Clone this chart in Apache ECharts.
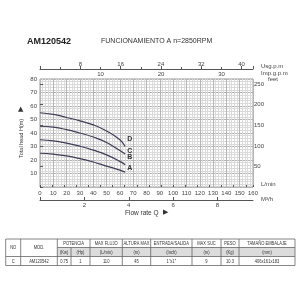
<!DOCTYPE html>
<html>
<head>
<meta charset="utf-8">
<script src="https://cdn.jsdelivr.net/npm/echarts@6/dist/echarts.min.js"></script>
<style>
  html, body { margin: 0; padding: 0; background: #fff; }
  #chart { width: 300px; height: 300px; }
</style>
</head>
<body>
<div id="chart"></div>
<script>
// curves: flow (L/min) vs total head (m)
var flowLpm = [0, 10, 20, 30, 40, 50, 60, 64];
var headA = [25, 24.3, 23, 21, 18.5, 15.5, 12.5, 11];
var headB = [35, 34.2, 32.5, 30.2, 27.3, 23.8, 19, 16.5];
var headC = [45, 44.3, 42.5, 40, 37, 33, 27, 24.5];
var headD = [55, 53.8, 51.5, 49, 46, 41.5, 35, 30];
var curveNames = ['A', 'B', 'C', 'D'];

// table
var tableHead1 = ['NO', 'MOD.', 'POTENCIA', 'MAX FLUJO', 'ALTURA MAX', 'ENTRADA/SALIDA', 'MAX SUC', 'PESO', 'TAMAÑO EMBALAJE'];
var tableHead2 = ['(Kw)', '(Hp)', '(L/min)', '(m)', '(Inch)', '(m)', '(Kg)', '(mm)'];
var tableRow = ['C', 'AM120542', '0.75', '1', '110', '45', '1"x1"', '9', '10.3', '406x161x183'];
var colWidths = [15, 36.6, 13.7, 19, 32.3, 28.4, 41.3, 29, 18, 56];

// unit conversions
var LPM_MAX = 160;
var H_MAX = 80;
var usgMax = LPM_MAX / 3.78541;
var impMax = LPM_MAX / 4.54609;
var m3hMax = LPM_MAX * 60 / 1000;
var feetMax = H_MAX * 3.28084;

function pairs(ys) {
    return flowLpm.map(function (x, i) { return [x, ys[i]]; });
}

var font = '"Liberation Sans", Arial, sans-serif';
var lineColor = '#3d3d55';
var labelOffsets = { A: [-6, -4], B: [-6, -8], C: [-6, -3], D: [-6, -7] };

function hideZero(v) { return v > 0 ? String(Math.round(v)) : ''; }

// table drawn as graphic elements
function tableGraphics() {
    var x0 = 5.7, rows = [239, 247.5, 256.5, 265.5];
    var edges = [x0];
    colWidths.forEach(function (w) { edges.push(edges[edges.length - 1] + w); });
    var xEnd = edges[edges.length - 1];
    var g = [];
    var border = { stroke: '#666', lineWidth: 0.8 };
    function line(x1, y1, x2, y2) {
        g.push({ type: 'line', shape: { x1: x1, y1: y1, x2: x2, y2: y2 }, style: border, z: 10 });
    }
    function cellText(s, xa, xb, ya, yb) {
        g.push({ type: 'text', x: (xa + xb) / 2, y: (ya + yb) / 2 + 0.3, z: 11, scaleX: 0.85,
            style: { text: s, font: '4.8px ' + font, fill: '#333', align: 'center', verticalAlign: 'middle' } });
    }
    // grey unit row
    g.push({ type: 'rect', shape: { x: edges[2], y: rows[1], width: xEnd - edges[2], height: rows[2] - rows[1] },
        style: { fill: '#dcdcdc' }, z: 9 });
    // horizontal lines
    line(x0, rows[0], xEnd, rows[0]);
    line(edges[2], rows[1], xEnd, rows[1]);
    line(x0, rows[2], xEnd, rows[2]);
    line(x0, rows[3], xEnd, rows[3]);
    // vertical lines
    edges.forEach(function (x, i) {
        if (i === 3) line(x, rows[1], x, rows[3]);
        else line(x, rows[0], x, rows[3]);
    });
    // header row 1
    cellText(tableHead1[0], edges[0], edges[1], rows[0], rows[2]);
    cellText(tableHead1[1], edges[1], edges[2], rows[0], rows[2]);
    cellText(tableHead1[2], edges[2], edges[4], rows[0], rows[1]);
    for (var i = 3; i < tableHead1.length; i++) {
        cellText(tableHead1[i], edges[i + 1], edges[i + 2], rows[0], rows[1]);
    }
    // header row 2
    tableHead2.forEach(function (s, j) { cellText(s, edges[j + 2], edges[j + 3], rows[1], rows[2]); });
    // data row
    tableRow.forEach(function (s, j) { cellText(s, edges[j], edges[j + 1], rows[2], rows[3]); });
    return g;
}

var myChart = echarts.init(document.getElementById('chart'), null, { renderer: 'canvas' });

var option = {
    animation: false,
    grid: { left: 40, top: 79, width: 213, height: 108, show: true, borderColor: '#999', borderWidth: 1 },
    xAxis: [
        { // L/min
            type: 'value', min: 0, max: LPM_MAX, interval: 10, position: 'bottom',
            axisLine: { show: false }, axisTick: { show: false },
            axisLabel: { fontSize: 6, color: '#444', margin: 3, fontFamily: font, showMaxLabel: true },
            splitLine: { show: true, lineStyle: { color: '#b5b5b5', width: 1 } },
            minorTick: { show: false, splitNumber: 5 },
            minorSplitLine: { show: true, lineStyle: { color: '#dadada', width: 1 } }
        },
        { // Imp g.p.m
            type: 'value', min: 0, max: impMax, interval: 10, position: 'top', offset: 0,
            axisLine: { show: false },
            axisTick: { show: true, length: 2, lineStyle: { color: '#555' } },
            minorTick: { show: true, splitNumber: 5, length: 2, lineStyle: { color: '#555' } },
            axisLabel: { fontSize: 6, color: '#444', margin: 2, fontFamily: font, formatter: hideZero, showMaxLabel: false },
            splitLine: { show: false }
        },
        { // US g.p.m
            type: 'value', min: 0, max: usgMax, interval: 8, position: 'top', offset: 10,
            axisLine: { show: true, lineStyle: { color: '#555', width: 1 } },
            axisTick: { show: true, length: 3, lineStyle: { color: '#555' } },
            minorTick: { show: true, splitNumber: 2, length: 2, lineStyle: { color: '#555' } },
            axisLabel: { fontSize: 6, color: '#444', margin: 2, fontFamily: font, formatter: hideZero, showMaxLabel: false },
            splitLine: { show: false }
        },
        { // m3/h
            type: 'value', min: 0, max: m3hMax, interval: 2, position: 'bottom', offset: 13,
            axisLine: { show: true, lineStyle: { color: '#555', width: 1 } },
            axisTick: { show: true, inside: true, length: 3, lineStyle: { color: '#555' } },
            axisLabel: { fontSize: 6, color: '#444', margin: 2, fontFamily: font, formatter: hideZero, showMaxLabel: false },
            splitLine: { show: false }
        }
    ],
    yAxis: [
        { // m
            type: 'value', min: 0, max: H_MAX, interval: 10, position: 'left',
            axisLine: { show: false }, axisTick: { show: false },
            axisLabel: { fontSize: 6, color: '#444', margin: 3, fontFamily: font, formatter: hideZero },
            splitLine: { show: true, lineStyle: { color: '#b5b5b5', width: 1 } },
            minorTick: { show: false, splitNumber: 5 },
            minorSplitLine: { show: true, lineStyle: { color: '#dadada', width: 1 } }
        },
        { // feet
            type: 'value', min: 0, max: feetMax, interval: 50, position: 'right',
            axisLine: { show: false },
            axisTick: { show: true, length: 3, lineStyle: { color: '#555' } },
            axisLabel: { fontSize: 6, color: '#444', margin: 1, fontFamily: font, formatter: hideZero, showMaxLabel: false },
            splitLine: { show: false }
        }
    ],
    series: [headA, headB, headC, headD].map(function (h, i) {
        var name = curveNames[i];
        return {
            name: name, type: 'line', xAxisIndex: 0, yAxisIndex: 0,
            data: pairs(h), smooth: true, showSymbol: false,
            lineStyle: { color: lineColor, width: 1.2 },
            endLabel: {
                show: true, formatter: name, offset: labelOffsets[name],
                fontSize: 7, fontWeight: 'bold', color: '#333', fontFamily: font
            }
        };
    }),
    graphic: [
        { type: 'text', left: 27, top: 37, style: { text: 'AM120542', font: 'bold 9px ' + font, fill: '#222' } },
        { type: 'text', left: 101, top: 38, style: { text: 'FUNCIONAMIENTO A n=2850RPM', font: '7px ' + font, fill: '#333' } },
        { type: 'text', left: 261, top: 63, style: { text: 'Usg.p.m', font: '6px ' + font, fill: '#444' } },
        { type: 'text', left: 261, top: 70, style: { text: 'Imp.g.p.m', font: '6px ' + font, fill: '#444' } },
        { type: 'text', left: 268, top: 76, style: { text: 'feet', font: '6px ' + font, fill: '#444' } },
        { type: 'text', left: 261, top: 181, style: { text: 'L/min', font: '6px ' + font, fill: '#444' } },
        { type: 'text', left: 261, top: 196, style: { text: 'M³/h', font: '6px ' + font, fill: '#444' } },
        { type: 'text', left: 125, top: 210, style: { text: 'Flow rate Q', font: '6.5px ' + font, fill: '#333' } },
        { type: 'text', left: 163, top: 209, style: { text: '▶', font: '7px "DejaVu Sans"', fill: '#333' } },
        { type: 'text', x: 18, y: 158, rotation: Math.PI / 2, style: { text: 'Total head H(m)', font: '5.5px ' + font, fill: '#333' } },
        { type: 'text', left: 18, top: 106, style: { text: '▲', font: '7px "DejaVu Sans"', fill: '#333' } }
    ].concat(tableGraphics())
};

myChart.setOption(option);
</script>
</body>
</html>
